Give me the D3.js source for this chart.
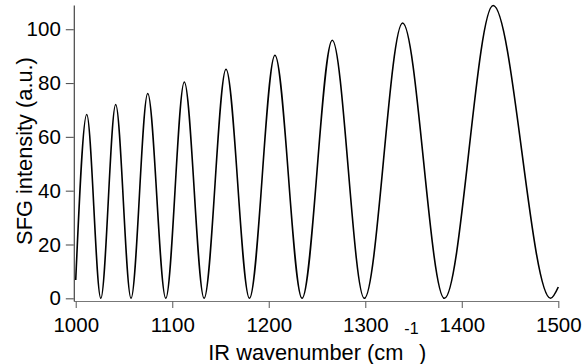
<!DOCTYPE html>
<html>
<head>
<meta charset="utf-8">
<script src="https://cdn.jsdelivr.net/npm/d3@7"></script>
<style>
  html, body { margin: 0; padding: 0; background: #fff; }
  svg { display: block; font-family: "Liberation Sans", Arial, sans-serif; }
</style>
</head>
<body>
<svg id="chart" width="584" height="364"></svg>
<script>
// Data
const wavenumber = [1000, 1011.4, 1026, 1041.4, 1057.3, 1074.6, 1093.3, 1112.5, 1133, 1155.7, 1180, 1206.4, 1234.5, 1265.8, 1299, 1338.7, 1382, 1432.5, 1492, 1500];
const intensity  = [6.8, 68.3, 0, 72.0, 0, 76.1, 0, 80.4, 0, 85.1, 0, 90.3, 0, 95.9, 0, 102.3, 0, 108.8, 0, 4.2];
const xTicks = [1000, 1100, 1200, 1300, 1400, 1500];
const yTicks = [0, 20, 40, 60, 80, 100];
const xDomain = [998, 1500];
const yDomain = [-1, 109];

const svg = d3.select("#chart");
const plotLeft = 73.8, plotRight = 558.3, plotTop = 5, plotBottom = 301;

const x = d3.scaleLinear().domain(xDomain).range([plotLeft, plotRight]);
const y = d3.scaleLinear().domain(yDomain).range([plotBottom, plotTop]);

const data = wavenumber.map((w, i) => ({ w, v: intensity[i] }));

// Axes
const gx = svg.append("g")
  .attr("transform", `translate(0,${plotBottom})`)
  .call(d3.axisBottom(x).tickValues(xTicks).tickFormat(d3.format("d")).tickSizeInner(7).tickSizeOuter(0).tickPadding(9));
const gy = svg.append("g")
  .attr("transform", `translate(${plotLeft},0)`)
  .call(d3.axisLeft(y).tickValues(yTicks).tickFormat(d3.format("d")).tickSizeInner(8).tickSizeOuter(0).tickPadding(5));

gx.select(".domain").attr("stroke", "#777").attr("stroke-width", 1.2);
gx.selectAll(".tick line").attr("stroke", "#666").attr("stroke-width", 1.1);
gy.select(".domain").attr("stroke", "#444").attr("stroke-width", 1.2);
gy.selectAll(".tick line").attr("stroke", "#555").attr("stroke-width", 1.1);
[gx, gy].forEach(g => {
  g.selectAll(".tick text").attr("fill", "#000").style("font-size", "20.5px").style("font-family", '"Liberation Sans", Arial, sans-serif');
});

// Curve
const line = d3.line()
  .x(d => x(d.w))
  .y(d => y(d.v))
  .curve(d3.curveMonotoneX);

svg.append("path")
  .datum(data)
  .attr("fill", "none")
  .attr("stroke", "#000")
  .attr("stroke-width", 1.6)
  .attr("d", line);

// Axis titles
const xt = svg.append("text")
  .attr("x", 208.3)
  .attr("y", 359.5)
  .attr("text-anchor", "start")
  .style("font-size", "21.8px")
  .attr("fill", "#000");
xt.append("tspan").text("IR wavenumber (cm");
xt.append("tspan").attr("dy", -26).attr("dx", 1).style("font-size", "16px").text("-1");
xt.append("tspan").attr("dy", 26).attr("dx", 0.5).text(")");

svg.append("text")
  .attr("transform", `translate(31.5,${(plotTop + plotBottom) / 2 - 2}) rotate(-90)`)
  .attr("text-anchor", "middle")
  .style("font-size", "21.8px")
  .attr("fill", "#000")
  .text("SFG intensity (a.u.)");
</script>
</body>
</html>
